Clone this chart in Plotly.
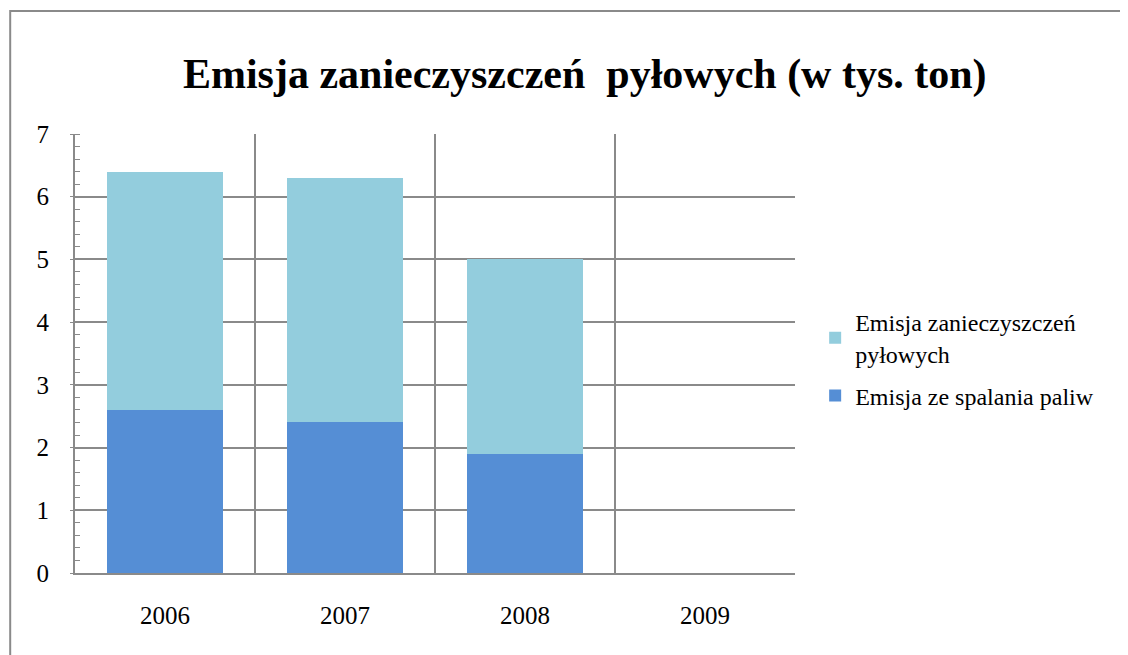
import plotly.graph_objects as go

years = ["2006", "2007", "2008", "2009"]
fuel_emission = [2.6, 2.4, 1.9, None]
dust_emission = [3.8, 3.9, 3.1, None]
y_ticks = [0, 1, 2, 3, 4, 5, 6, 7]

grid_col = "#8a8a8a"
font_family = "Liberation Serif, Times New Roman, serif"

fig = go.Figure(
    data=[
        go.Bar(
            x=years,
            y=fuel_emission,
            name="Emisja ze spalania paliw",
            legendgroup="fuel",
            legendrank=2,
            marker=dict(color="#558ED5", line=dict(width=0)),
            width=0.645,
        ),
        go.Bar(
            x=years,
            y=dust_emission,
            name="Emisja zanieczyszczeń<br>pyłowych",
            legendgroup="dust",
            legendrank=1,
            marker=dict(color="#93CDDD", line=dict(width=0)),
            width=0.645,
        ),
    ],
    layout=go.Layout(
        barmode="stack",
        width=1128,
        height=655,
        paper_bgcolor="white",
        plot_bgcolor="white",
        font=dict(family=font_family, color="black", size=24),
        # page body has an 8px margin, so shift the plot area up/left
        margin=dict(l=67, r=341, t=126, b=90),
        title=dict(
            text="<b>Emisja zanieczyszczeń  pyłowych (w tys. ton)</b>",
            font=dict(size=42, family=font_family, color="black"),
            x=0.708,
            xref="paper",
            xanchor="center",
            y=0.901,
            yref="container",
            yanchor="middle",
        ),
        xaxis=dict(
            type="category",
            range=[-0.5, 3.5],
            tickson="boundaries",
            showgrid=True,
            gridcolor=grid_col,
            gridwidth=1.5,
            ticks="",
            showline=True,
            linecolor=grid_col,
            linewidth=2,
            ticklabelstandoff=19,
            tickfont=dict(size=25),
        ),
        yaxis=dict(
            range=[0, 7],
            tickvals=y_ticks,
            showgrid=True,
            gridcolor=grid_col,
            gridwidth=1.5,
            showline=True,
            linecolor=grid_col,
            linewidth=2,
            ticks="outside",
            ticklen=3,
            tickcolor=grid_col,
            zeroline=False,
            ticklabelstandoff=16,
            tickfont=dict(size=25),
            minor=dict(dtick=0.2, ticks="inside", ticklen=5, tickcolor=grid_col, showgrid=False),
        ),
        legend=dict(
            x=1.028,
            y=0.622,
            xanchor="left",
            yanchor="top",
            traceorder="grouped",
            font=dict(size=24),
            itemsizing="constant",
            tracegroupgap=8,
        ),
        shapes=[
            dict(
                type="rect",
                xref="paper",
                yref="paper",
                x0=-0.09,
                x1=1.6,
                y0=-0.4,
                y1=1.28,
                line=dict(color="#8a8a8a", width=2),
                layer="below",
            )
        ],
    ),
)

fig.write_html("out.html")
